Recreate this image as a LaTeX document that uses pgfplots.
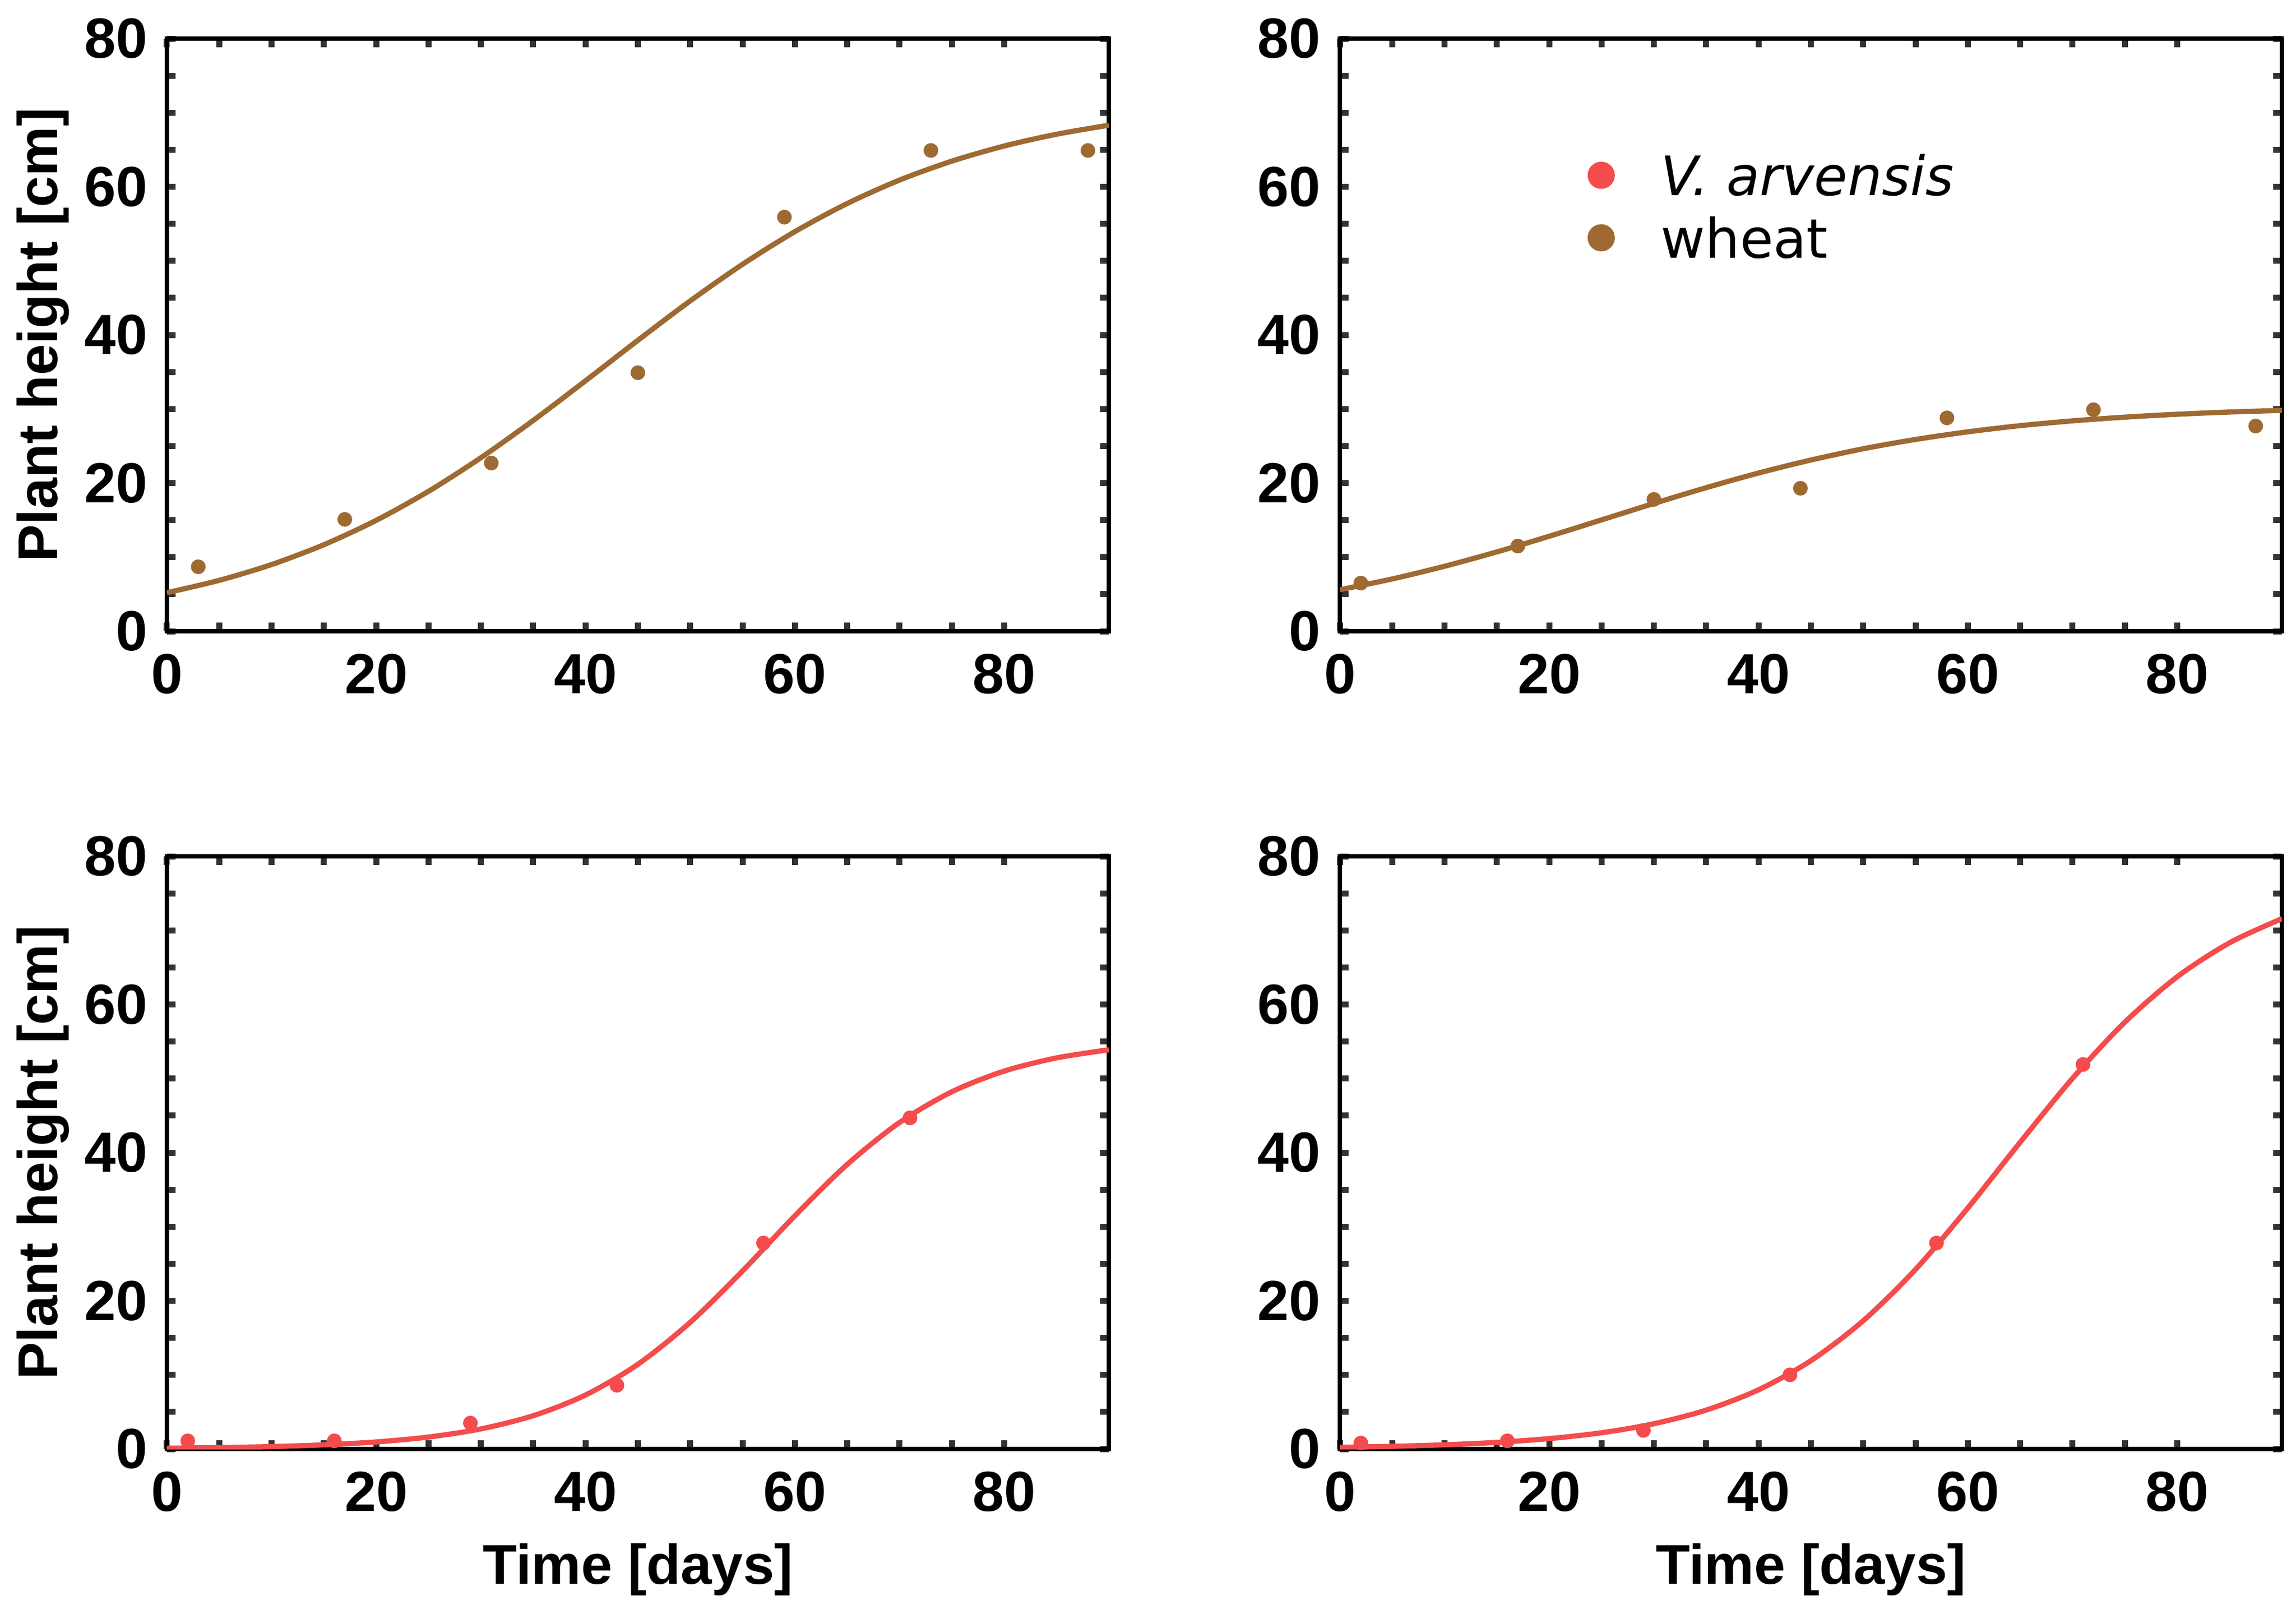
\documentclass[border=0pt]{standalone}
\usepackage{pgfplots}
\pgfplotsset{compat=1.18}
\usepackage{fontspec}
\setmainfont{Liberation Sans}
\newfontfamily\legfont{DejaVu Sans}
\definecolor{wheatc}{RGB}{158,106,50}
\definecolor{vac}{RGB}{244,76,76}

\pgfplotsset{panel/.style={
  scale only axis, width=173.3pt, height=109pt,
  xmin=0, xmax=90, ymin=0, ymax=80,
  xtick={0,20,...,80}, ytick={0,20,...,80},
  minor x tick num=3, minor y tick num=3,
  axis line style={line width=0.8pt, black},
  tick align=inside, major tick length=1.6pt, minor tick length=1.6pt,
  tick style={line width=1.1pt, black!80},
  /pgf/number format/assume math mode=true,
  tick label style={font=\fontsize{10.4}{12}\selectfont\bfseries, inner sep=0pt},
  xticklabel shift=4pt, yticklabel shift=3.4pt,
  label style={font=\fontsize{10.3}{12}\selectfont\bfseries, inner sep=0pt},
  xlabel style={at={(axis description cs:0.5,-0.2284)}, anchor=base},
  ylabel style={at={(axis description cs:-0.116,0.5)}, anchor=base},
  pts/.style={only marks, mark=*, mark size=1.15pt},
  fit/.style={no marks, smooth, line width=0.95pt},
}}

\begin{document}
\begin{tikzpicture}
\useasboundingbox (0,0) rectangle (422.4pt,295.1pt);

% top left: wheat
\begin{axis}[panel, at={(30.7pt,179pt)}, anchor=south west, ylabel={Plant height [cm]}]
\addplot[pts, wheatc] coordinates {(3,8.7)(17,15.1)(31,22.7)(45,34.9)(59,55.9)(73,64.9)(88,64.9)};
\addplot[fit, wheatc] coordinates {(0,5.20)(5,6.87)(10,9.00)(15,11.68)(20,14.97)(25,18.89)(30,23.42)(35,28.45)(40,33.81)(45,39.27)(50,44.59)(55,49.53)(60,53.94)(65,57.74)(70,60.90)(75,63.46)(80,65.50)(85,67.09)(90,68.31)};
\end{axis}

% top right: wheat with legend
\begin{axis}[panel, at={(246.5pt,179pt)}, anchor=south west,
  legend image post style={mark size=2.3pt},
  legend style={draw=none, fill=none, at={(axis description cs:0.263,0.824)}, anchor=north west,
    inner sep=0pt, row sep=0pt, column sep=6.7pt, font=\fontsize{10}{12}\selectfont\legfont,
    nodes={inner sep=2pt, text height=7.5pt, text depth=0pt}},
  legend cell align=left]
\addlegendimage{only marks, mark=*, vac}
\addplot[pts, wheatc] coordinates {(2,6.5)(17,11.5)(30,17.8)(44,19.3)(58,28.8)(72,29.9)(87.5,27.7)};
\addplot[fit, wheatc, forget plot] coordinates {(0,5.60)(5,7.06)(10,8.77)(15,10.71)(20,12.82)(25,15.03)(30,17.25)(35,19.38)(40,21.36)(45,23.11)(50,24.63)(55,25.89)(60,26.92)(65,27.75)(70,28.40)(75,28.90)(80,29.29)(85,29.59)(90,29.81)};
\legend{\textit{V. arvensis}, wheat}
\end{axis}

% bottom left: V. arvensis
\begin{axis}[panel, at={(30.7pt,28.6pt)}, anchor=south west, ylabel={Plant height [cm]}, xlabel={Time [days]}]
\addplot[pts, vac] coordinates {(2,1.1)(16,1.1)(29,3.5)(43,8.6)(57,27.8)(71,44.7)};
\addplot[fit, vac] coordinates {(0,0.111)(5,0.191)(10,0.326)(15,0.558)(20,0.950)(25,1.611)(30,2.709)(35,4.490)(40,7.284)(45,11.43)(50,17.09)(55,24.03)(60,31.47)(65,38.41)(70,44.07)(75,48.22)(80,51.01)(85,52.79)(90,53.89)};
\end{axis}

% bottom right: V. arvensis
\begin{axis}[panel, at={(246.5pt,28.6pt)}, anchor=south west, xlabel={Time [days]}]
\addplot[pts, vac] coordinates {(2,0.8)(16,1.1)(29,2.5)(43,10.0)(57,27.8)(71,51.9)};
\addplot[fit, vac] coordinates {(0,0.229)(5,0.359)(10,0.566)(15,0.891)(20,1.400)(25,2.190)(30,3.406)(35,5.252)(40,7.990)(45,11.92)(50,17.31)(55,24.24)(60,32.54)(65,41.41)(70,50.03)(75,57.62)(80,63.74)(85,68.33)(90,71.59)};
\end{axis}
\end{tikzpicture}
\end{document}
